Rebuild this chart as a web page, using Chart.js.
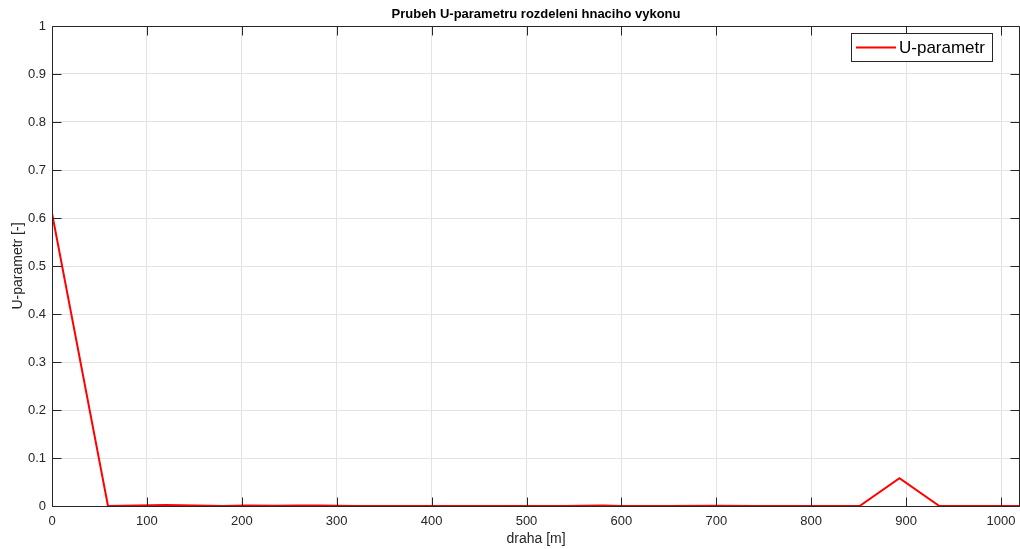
<!DOCTYPE html>
<html>
<head>
<meta charset="utf-8">
<title>U-parametr</title>
<script src="https://cdn.jsdelivr.net/npm/chart.js@4/dist/chart.umd.min.js"></script>
<style>
  html, body { margin: 0; padding: 0; background: #fff; }
  #wrap { width: 1020px; height: 549px; position: relative; }
</style>
</head>
<body>
<div id="wrap"><canvas id="uChart"></canvas></div>
<script>
// draha [m] and U-parametr samples
const drahaM = [0, 59, 90, 120, 150, 180, 205, 235, 260, 280, 320, 360, 400, 450, 500, 540, 580, 600, 650, 700, 740, 780, 820, 851, 893, 935, 980, 1020];
const uParam = [0.61, 0, 0.001, 0.002, 0.001, 0, 0.001, 0.0005, 0.001, 0.001, 0, 0, 0, 0, 0, 0, 0.001, 0, 0, 0.0005, 0, 0, 0, 0, 0.058, 0, 0, 0];
const xTicks = [0, 100, 200, 300, 400, 500, 600, 700, 800, 900, 1000];
const yTicks = [0, 0.1, 0.2, 0.3, 0.4, 0.5, 0.6, 0.7, 0.8, 0.9, 1];

const titleText = "Prubeh U-parametru rozdeleni hnaciho vykonu";
const xLabel = "draha [m]";
const yLabel = "U-parametr [-]";
const seriesName = "U-parametr";

const FONT = "'Liberation Sans', Arial, Helvetica, sans-serif";
const AXIS = "#262626";

// box, inward ticks, titles and legend drawn MATLAB style
const framePlugin = {
  id: "frame",
  afterDraw(chart) {
    const { ctx, chartArea: a, scales } = chart;
    const L = Math.round(a.left) + 0.5, R = Math.round(a.right) - 0.5;
    const T = Math.round(a.top) + 0.5, B = Math.round(a.bottom) + 0.5;
    ctx.save();
    ctx.strokeStyle = AXIS;
    ctx.lineWidth = 1;
    ctx.beginPath();
    ctx.rect(L, T, R - L, B - T);
    ctx.stroke();
    ctx.beginPath();
    xTicks.forEach(v => {
      const px = Math.round(scales.x.getPixelForValue(v)) + 0.5;
      ctx.moveTo(px, B); ctx.lineTo(px, B - 9);
      ctx.moveTo(px, T); ctx.lineTo(px, T + 9);
    });
    yTicks.forEach(v => {
      const py = Math.round(scales.y.getPixelForValue(v)) + 0.5;
      ctx.moveTo(L, py); ctx.lineTo(L + 9, py);
      ctx.moveTo(R, py); ctx.lineTo(R - 9, py);
    });
    ctx.stroke();

    // title
    ctx.fillStyle = "#000";
    ctx.font = "bold 13px " + FONT;
    ctx.textAlign = "center";
    ctx.textBaseline = "middle";
    ctx.fillText(titleText, (a.left + a.right) / 2, 14);

    // axis titles
    ctx.fillStyle = AXIS;
    ctx.font = "14px " + FONT;
    ctx.fillText(xLabel, (a.left + a.right) / 2, 539);
    ctx.translate(18, (a.top + a.bottom) / 2);
    ctx.rotate(-Math.PI / 2);
    ctx.fillText(yLabel, 0, 0);
    ctx.restore();

    // legend
    const ds = chart.data.datasets[0];
    ctx.save();
    ctx.fillStyle = "#fff";
    ctx.fillRect(851.5, 33.5, 141, 28);
    ctx.strokeStyle = AXIS;
    ctx.lineWidth = 1;
    ctx.strokeRect(851.5, 33.5, 141, 28);
    ctx.strokeStyle = ds.borderColor;
    ctx.lineWidth = 2;
    ctx.beginPath();
    ctx.moveTo(856, 47.5); ctx.lineTo(896, 47.5);
    ctx.stroke();
    ctx.fillStyle = "#000";
    ctx.font = "17px " + FONT;
    ctx.textAlign = "left";
    ctx.textBaseline = "middle";
    ctx.fillText(ds.label, 899, 48);
    ctx.restore();
  }
};

new Chart(document.getElementById("uChart"), {
  type: "line",
  data: {
    datasets: [{
      label: seriesName,
      data: drahaM.map((d, i) => ({ x: d, y: uParam[i] })),
      borderColor: "#ff0000",
      borderWidth: 2,
      pointRadius: 0,
      tension: 0,
      fill: false
    }]
  },
  options: {
    responsive: true,
    maintainAspectRatio: false,
    animation: false,
    layout: { padding: { top: 26, left: 0, right: 0, bottom: 0 } },
    plugins: {
      legend: { display: false },
      title: { display: false },
      tooltip: { enabled: false }
    },
    scales: {
      x: {
        type: "linear",
        min: 0,
        max: 1020,
        afterFit(scale) {
          scale.height = 43;
          scale.paddingLeft = 0;
          scale.paddingRight = 0;
        },
        afterBuildTicks(scale) { scale.ticks = xTicks.map(v => ({ value: v })); },
        grid: { color: "#e3e3e3", drawTicks: false },
        border: { display: false },
        ticks: {
          padding: 8,
          maxRotation: 0,
          color: AXIS,
          font: { family: FONT, size: 13 },
          callback: v => String(v)
        }
      },
      y: {
        min: 0,
        max: 1,
        afterFit(scale) { scale.width = 52; },
        afterBuildTicks(scale) { scale.ticks = yTicks.map(v => ({ value: v })); },
        grid: { color: "#e3e3e3", drawTicks: false },
        border: { display: false },
        ticks: {
          padding: 6,
          color: AXIS,
          font: { family: FONT, size: 13 },
          callback: v => String(v)
        }
      }
    }
  },
  plugins: [framePlugin]
});
</script>
</body>
</html>
